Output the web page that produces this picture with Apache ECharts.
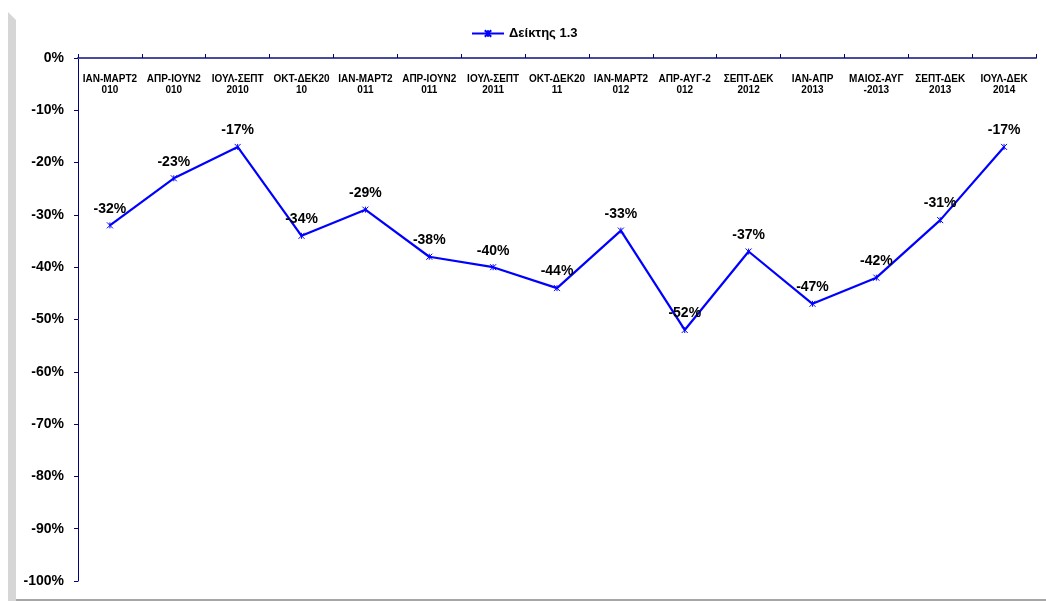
<!DOCTYPE html>
<html>
<head>
<meta charset="utf-8">
<script src="https://cdn.jsdelivr.net/npm/echarts@6/dist/echarts.min.js"></script>
<style>
html,body{margin:0;padding:0;background:#fff;}
#chart{width:1046px;height:601px;}
</style>
</head>
<body>
<div id="chart"></div>
<script>
const categories = [
  'ΙΑΝ-ΜΑΡΤ2\n010', 'ΑΠΡ-ΙΟΥΝ2\n010', 'ΙΟΥΛ-ΣΕΠΤ\n2010', 'ΟΚΤ-ΔΕΚ20\n10',
  'ΙΑΝ-ΜΑΡΤ2\n011', 'ΑΠΡ-ΙΟΥΝ2\n011', 'ΙΟΥΛ-ΣΕΠΤ\n2011', 'ΟΚΤ-ΔΕΚ20\n11',
  'ΙΑΝ-ΜΑΡΤ2\n012', 'ΑΠΡ-ΑΥΓ-2\n012', 'ΣΕΠΤ-ΔΕΚ\n2012', 'ΙΑΝ-ΑΠΡ\n2013',
  'ΜΑΙΟΣ-ΑΥΓ\n-2013', 'ΣΕΠΤ-ΔΕΚ\n2013', 'ΙΟΥΛ-ΔΕΚ\n2014'
];
const seriesName = 'Δείκτης 1.3';
const values = [-32, -23, -17, -34, -29, -38, -40, -44, -33, -52, -37, -47, -42, -31, -17];
const yMin = -100, yMax = 0, yStep = 10;

const marker = 'path://M0,0L10,10M10,0L0,10M5,0L5,10';
const font = 'Liberation Sans, Arial, sans-serif';
const chart = echarts.init(document.getElementById('chart'), null, {renderer: 'canvas'});
chart.setOption({
  animation: false,
  backgroundColor: '#ffffff',
  graphic: [
    {type: 'polygon', shape: {points: [[8,12],[16,20],[16,601],[8,601]]}, style: {fill: '#d6d6d6'}, z: 0},
    {type: 'rect', shape: {x: 16, y: 599, width: 1030, height: 2}, style: {fill: '#a6a6a6'}, z: 0}
  ],
  legend: {
    top: 22, left: 466,
    itemWidth: 32, itemHeight: 8, itemGap: 4,
    textStyle: {fontFamily: font, fontWeight: 'bold', fontSize: 13, color: '#000'},
    data: [{name: seriesName}]
  },
  grid: {left: 78, top: 58, right: 10, bottom: 20, containLabel: false},
  xAxis: {
    type: 'category', position: 'top', data: categories, boundaryGap: true,
    axisLine: {show: true, lineStyle: {color: '#4a4aa0', width: 2}},
    axisTick: {show: true, inside: false, length: 4, lineStyle: {color: '#000080'}},
    axisLabel: {inside: true, margin: 16, interval: 0, fontFamily: font, fontWeight: 'bold', fontSize: 10, lineHeight: 11, color: '#000', verticalAlign: 'top'},
    splitLine: {show: false}
  },
  yAxis: {
    type: 'value', min: yMin, max: yMax, interval: yStep,
    axisLine: {show: true, lineStyle: {color: '#000080', width: 1}},
    axisTick: {show: true, inside: false, length: 4, lineStyle: {color: '#000080'}},
    axisLabel: {margin: 14, fontFamily: font, fontWeight: 'bold', fontSize: 14, color: '#000', formatter: v => v + '%'},
    splitLine: {show: false}
  },
  series: [{
    name: seriesName, type: 'line', data: values,
    lineStyle: {color: '#0000ff', width: 2.2},
    symbol: marker, symbolSize: 6, showAllSymbol: true,
    itemStyle: {color: '#0000ff', borderColor: '#0000ff', borderWidth: 1},
    label: {show: true, position: 'top', distance: 6, fontFamily: font, fontWeight: 'bold', fontSize: 14, color: '#000', formatter: p => p.value + '%'}
  }]
});
</script>
</body>
</html>
